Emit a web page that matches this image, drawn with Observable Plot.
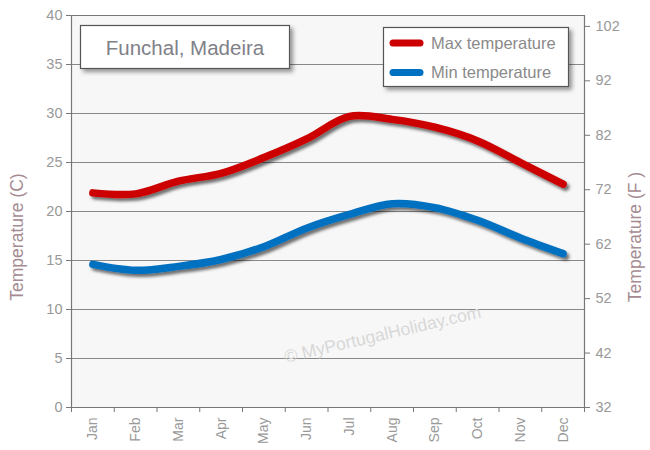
<!DOCTYPE html>
<html>
<head>
<meta charset="utf-8">
<script src="https://cdn.jsdelivr.net/npm/d3@7"></script>
<script src="https://cdn.jsdelivr.net/npm/@observablehq/plot@0.6"></script>
<style>
  html, body { margin: 0; padding: 0; background: #fff; }
  #chart { width: 650px; height: 450px; }
  svg { font-family: "Liberation Sans", Arial, sans-serif; }
</style>
</head>
<body>
<div id="chart"></div>
<script>
const months = ["Jan","Feb","Mar","Apr","May","Jun","Jul","Aug","Sep","Oct","Nov","Dec"];
const maxTemp = [21.9, 21.8, 23.1, 23.9, 25.5, 27.4, 29.7, 29.4, 28.6, 27.2, 25.0, 22.8];
const minTemp = [14.6, 14.0, 14.4, 15.1, 16.4, 18.3, 19.7, 20.8, 20.4, 19.1, 17.3, 15.7];
const cTicks = [0, 5, 10, 15, 20, 25, 30, 35, 40];
const fTicks = [32, 42, 52, 62, 72, 82, 92, 102];
const seriesNames = ["Max temperature", "Min temperature"];
const seriesColors = ["#cc0000", "#0070c0"];
const titleText = "Funchal, Madeira";
const watermark = "© MyPortugalHoliday.com";

const data = [];
months.forEach((m, i) => {
  data.push({i, month: m, series: seriesNames[0], t: maxTemp[i]});
  data.push({i, month: m, series: seriesNames[1], t: minTemp[i]});
});

const W = 650, H = 450, ML = 71, MR = 66, MT = 15, MB = 43;
const cToF = c => c * 9 / 5 + 32;
const fToC = f => (f - 32) * 5 / 9;

const svg = Plot.plot({
  width: W, height: H,
  marginLeft: ML, marginRight: MR, marginTop: MT, marginBottom: MB,
  style: {background: "transparent", fontFamily: "Liberation Sans, Arial, sans-serif"},
  x: {type: "linear", domain: [-0.5, 11.5]},
  y: {domain: [0, 40]},
  color: {domain: seriesNames, range: seriesColors},
  marks: [
    Plot.frame({fill: "#f7f7f7", stroke: null}),
    Plot.gridY(cTicks, {stroke: "#888", strokeOpacity: 1, strokeWidth: 1.2}),
    Plot.ruleX([-0.5, 11.5], {stroke: "#777", strokeWidth: 1.2}),
    Plot.ruleY([0, 40], {stroke: "#777", strokeWidth: 1.2}),
    Plot.axisY(cTicks, {anchor: "left", tickSize: 5, tickPadding: 4, fontSize: 14.5, color: "#999", stroke: "#777", label: null}),
    Plot.axisY(fTicks.map(fToC), {anchor: "right", tickSize: 5, tickPadding: 6, fontSize: 14.5, color: "#999", stroke: "#777", tickFormat: d => String(Math.round(cToF(d))), label: null}),
    Plot.axisX(d3.range(-0.5, 12, 1), {anchor: "bottom", tickSize: 5, stroke: "#777", tickFormat: () => "", label: null}),
    Plot.axisX(d3.range(0, 12), {anchor: "bottom", tickSize: 0, tickPadding: 10, tickRotate: -90, fontSize: 14, color: "#999", tickFormat: i => months[i], label: null}),
    Plot.line(data, {x: "i", y: "t", z: "series", stroke: "series", strokeWidth: 7.5, curve: "catmull-rom", strokeLinecap: "round"})
  ]
});

const s = d3.select(svg);
const defs = s.insert("defs", ":first-child");
const f1 = defs.append("filter").attr("id", "shadow").attr("x", "-10%").attr("y", "-10%").attr("width", "130%").attr("height", "140%");
f1.append("feDropShadow").attr("dx", 2.5).attr("dy", 3).attr("stdDeviation", 1.8).attr("flood-color", "#000").attr("flood-opacity", 0.55);
const f2 = defs.append("filter").attr("id", "boxshadow").attr("x", "-10%").attr("y", "-10%").attr("width", "130%").attr("height", "140%");
f2.append("feDropShadow").attr("dx", 3).attr("dy", 3).attr("stdDeviation", 2).attr("flood-color", "#000").attr("flood-opacity", 0.4);

s.selectAll("g[aria-label='line'] path").attr("filter", "url(#shadow)");

// Axis titles
s.append("text").attr("transform", "translate(23,237) rotate(-90)")
  .attr("text-anchor", "middle").attr("font-size", 17.5).attr("fill", "#a58c92").text("Temperature (C)");
s.append("text").attr("transform", "translate(641,237) rotate(-90)")
  .attr("text-anchor", "middle").attr("font-size", 17.5).attr("fill", "#a58c92").text("Temperature (F )");

// Watermark
s.append("text").attr("transform", "translate(384,340) rotate(-13)")
  .attr("text-anchor", "middle").attr("font-size", 17.5).attr("fill", "#d8d8d8").text(watermark);

// Title box
const tb = s.append("g");
tb.append("rect").attr("x", 80.5).attr("y", 25.5).attr("width", 209).attr("height", 43)
  .attr("fill", "#fff").attr("stroke", "#555").attr("stroke-width", 1.2).attr("filter", "url(#boxshadow)");
tb.append("text").attr("x", 185).attr("y", 55).attr("text-anchor", "middle")
  .attr("font-size", 20.5).attr("fill", "#7f8088").text(titleText);

// Legend box
const lg = s.append("g").attr("text-anchor", "start");
lg.append("rect").attr("x", 383.5).attr("y", 27.5).attr("width", 185).attr("height", 59)
  .attr("fill", "#fff").attr("stroke", "#555").attr("stroke-width", 1.2).attr("filter", "url(#boxshadow)");
seriesNames.forEach((name, k) => {
  const y = 43 + k * 29.5;
  lg.append("line").attr("x1", 393).attr("x2", 420).attr("y1", y).attr("y2", y)
    .attr("stroke", seriesColors[k]).attr("stroke-width", 7).attr("stroke-linecap", "round");
  lg.append("text").attr("x", 431).attr("y", y + 5.5).attr("text-anchor", "start")
    .attr("font-size", 16.5).attr("fill", "#8a8a8a").text(name);
});

document.getElementById("chart").appendChild(svg);
</script>
</body>
</html>
